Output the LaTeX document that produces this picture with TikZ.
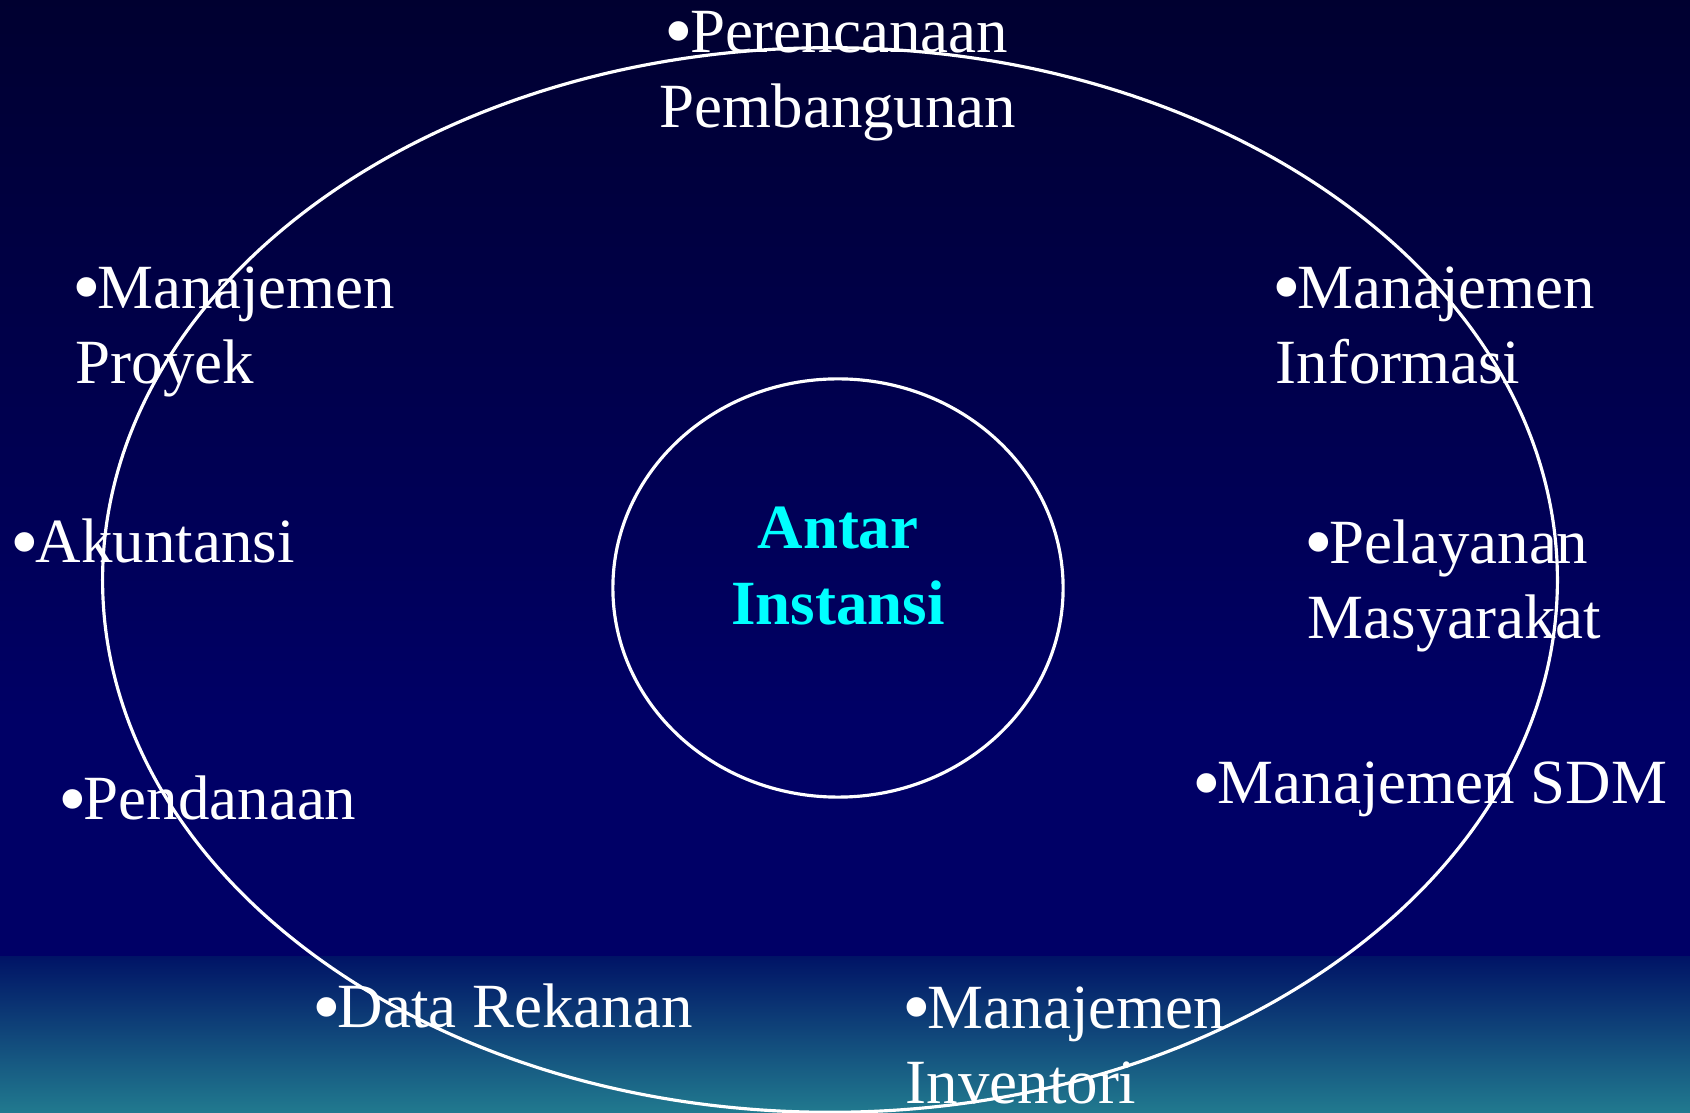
\documentclass[tikz,border=0pt]{standalone}
\usepackage{fontspec}
\setmainfont{Liberation Serif}
\usetikzlibrary{positioning, shapes.geometric}

\definecolor{skytop}{HTML}{000030}
\definecolor{skymid}{HTML}{000066}
\definecolor{seatop}{HTML}{001466}
\definecolor{seabot}{HTML}{217A8F}
\definecolor{coretext}{HTML}{00FFFF}

% a slightly heavier bullet
\newcommand{\blt}{\makebox[0.35em]{\raisebox{-0.1em}{\scalebox{1.3}{•}}}}

\begin{document}
\begin{tikzpicture}[
  x=0.01cm, y=-0.01cm,
  ring/.style={draw=white, ellipse, line width=0.9pt, inner sep=0pt},
  item/.style={text=white, font=\fontsize{17.9}{21.6}\selectfont,
               align=left, anchor=base west, inner sep=0pt},
  core/.style={text=coretext, font=\fontsize{17.9}{21.8}\selectfont\bfseries,
               align=center, anchor=base, inner sep=0pt},
]

% === Background ===
\useasboundingbox (0,0) rectangle (1690,1113);
\shade[top color=skytop, bottom color=skymid] (0,0) rectangle (1690,720);
\fill[skymid] (0,719) rectangle (1690,958);
\shade[top color=seatop, bottom color=seabot] (0,957) rectangle (1690,1113);

% === Rings ===
\node[ring, minimum width=14.54cm, minimum height=10.64cm] (outer) at (830,580) {};
\node[ring, minimum width=4.5cm, minimum height=4.18cm] (inner) at (838,588) {};

% === Centre (anchored on last baseline) ===
\node[core] (centre) at (838,625) {Antar\\Instansi};

% === Items ===
\node[item, align=center, anchor=base] (plan) at (838,128) {\blt Perencanaan\\Pembangunan};
\node[item] (proj) at (75,384) {\blt Manajemen\\Proyek};
\node[item] (info) at (1275,384) {\blt Manajemen\\Informasi};
\node[item] (acct) at (13,563) {\blt Akuntansi};
\node[item] (serv) at (1307,639) {\blt Pelayanan\\Masyarakat};
\node[item] (fund) at (61,820) {\blt Pendanaan};
\node[item] (hrm) at (1195,804) {\blt Manajemen SDM};
\node[item] (vend) at (315,1028) {\blt Data Rekanan};
\node[item] (inv) at (905,1104) {\blt Manajemen\\Inventori};

\end{tikzpicture}
\end{document}
